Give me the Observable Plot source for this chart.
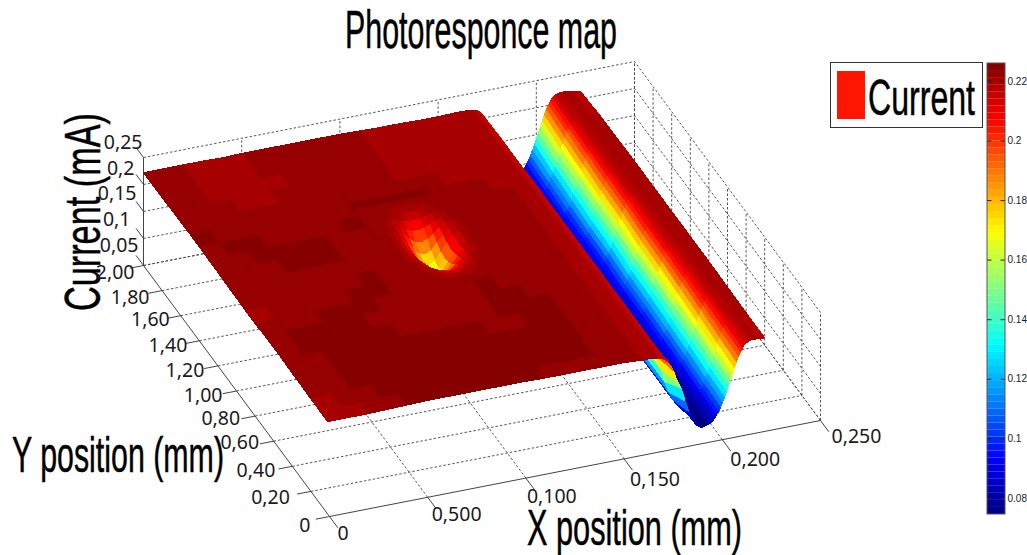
<!DOCTYPE html>
<html><head><meta charset="utf-8">
<script src="https://cdn.jsdelivr.net/npm/d3@7"></script>
<script src="https://cdn.jsdelivr.net/npm/@observablehq/plot@0.6"></script>
<style>
html,body{margin:0;padding:0;background:#fff}
#page{position:relative;width:1027px;height:555px;overflow:hidden}
#page svg{position:absolute}
.t{position:absolute;font-family:"Liberation Sans",Arial,sans-serif;line-height:1;white-space:nowrap;color:#000;transform-origin:0 0;-webkit-text-stroke:0.5px #000}
#legend{position:absolute;left:830px;top:62px;width:151px;height:64px;border:1px solid #333;background:#fff;box-sizing:content-box}
#swatch{position:absolute;left:6px;top:8px;width:28px;height:48px;background:#ff1500}
</style></head>
<body><div id="page">
<div class="t" id="title" style="left:345px;top:3px;font-size:53px">Photoresponce map</div>
<div id="legend"><div id="swatch"></div></div>
<div class="t" id="leg" style="left:868px;top:73px;font-size:50px">Current</div>
<div class="t" id="zlab" style="left:58px;top:311px;font-size:50px">Current (mA)</div>
<div class="t" id="ylab" style="left:12px;top:430px;font-size:50px">Y position (mm)</div>
<div class="t" id="xlab" style="left:527px;top:503px;font-size:50px">X position (mm)</div>
</div>
<script>
// ---------- axis ticks ----------
const xTicks=[0,0.05,0.1,0.15,0.2,0.25];
const xTickLabels=["0","0,500","0,100","0,150","0,200","0,250"];
const yTicks=[0,0.2,0.4,0.6,0.8,1,1.2,1.4,1.6,1.8,2];
const yTickLabels=["0","0,20","0,40","0,60","0,80","1,00","1,20","1,40","1,60","1,80","2,00"];
const zTicks=[0.05,0.1,0.15,0.2,0.25];
const zTickLabels=["0,05","0,1","0,15","0,2","0,25"];
const barTicks=[0.08,0.1,0.12,0.14,0.16,0.18,0.2,0.22];
const barTickLabels=["0.08","0.1","0.12","0.14","0.16","0.18","0.2","0.22"];
const currentExtent=[0.0746,0.226];

// ---------- flat part of the sample: current in uA ----------
const plateauX=[0,0.01,0.02,0.03,0.04,0.05,0.06,0.07,0.08,0.09,0.10,0.11,0.12,0.13,0.14,0.15,0.16];
const plateauY=[2.0,1.9,1.8,1.7,1.6,1.5,1.4,1.3,1.2,1.1,1.0,0.9,0.8,0.7,0.6,0.5,0.4,0.3,0.2,0.1,0.02];
const plateauCurrent=[
[222,222,222,222,221,222,222,222,222,222,222,221,220,220,219,219,220],
[222,222,221,220,220,222,222,222,222,223,223,220,219,219,219,219,220],
[222,222,221,220,220,220,222,222,222,224,224,220,219,219,219,220,221],
[223,222,222,220,220,221,222,222,222,223,223,221,220,219,219,220,221],
[223,223,222,222,222,222,222,223,223,223,222,222,221,220,220,220,221],
[224,223,223,223,223,223,223,223,223,224,224,224,223,222,222,221,221],
[224,224,224,223,223,223,223,224,224,224,225,225,225,224,223,222,221],
[223,223,224,224,224,224,223,223,224,225,225,225,224,224,223,222,221],
[223,223,223,224,224,224,224,223,223,223,223,223,224,224,223,222,221],
[222,223,223,223,224,224,223,223,223,223,223,223,223,223,223,222,221],
[222,222,223,223,223,223,223,224,223,223,223,223,223,223,223,222,221],
[221,221,222,223,223,223,224,224,223,223,223,223,223,223,223,222,221],
[221,221,222,223,224,224,224,224,223,223,223,223,224,223,223,222,221],
[223,224,224,224,224,224,223,223,223,223,223,224,224,223,223,222,221],
[223,224,225,225,224,224,223,223,223,223,223,224,224,224,224,222,221],
[223,223,224,224,224,224,224,223,224,224,223,223,224,224,224,223,221],
[222,223,223,224,224,224,224,224,224,224,224,224,223,224,224,223,221],
[222,223,224,224,225,225,225,225,224,224,224,225,225,225,224,223,221],
[221,222,223,224,224,225,225,225,225,225,224,224,225,225,224,223,221],
[221,221,222,223,224,224,225,225,224,224,224,224,224,224,224,223,221],
[221,221,221,222,223,224,224,224,224,224,224,223,223,223,223,223,221]];

// ---------- the dip in the middle ----------
const pitX=[0.082,0.085,0.088,0.091,0.094,0.097,0.100,0.103,0.106,0.109,0.112,0.115,0.118,0.121,0.124,0.127,0.130];
const pitY=[1.45,1.41,1.37,1.33,1.29,1.25,1.21,1.17,1.13,1.09,1.05,1.01,0.97,0.93,0.89,0.85,0.81];
const pitCurrent=[
[223,223,223,223,223,223,223,222,222,222,223,223,223,223,223,223,223],
[223,223,223,223,223,222,222,221,221,221,222,222,223,223,223,223,223],
[223,223,223,223,222,221,220,219,218,219,220,221,222,223,223,223,223],
[223,223,223,222,221,219,216,214,213,214,217,220,221,222,223,223,223],
[223,223,223,222,219,215,210,205,204,206,211,216,220,222,223,223,223],
[223,223,222,221,217,211,202,194,191,195,203,212,218,221,222,223,223],
[223,223,222,220,215,206,193,182,178,183,195,207,216,220,222,223,223],
[223,223,222,219,213,202,187,173,167,173,188,203,214,220,222,223,223],
[223,223,222,219,213,201,185,169,163,169,185,201,213,219,222,223,223],
[223,223,222,220,214,203,188,173,167,173,187,202,213,219,222,223,223],
[223,223,222,220,216,207,195,183,178,182,193,206,215,220,222,223,223],
[223,223,222,221,218,212,203,195,191,194,202,211,217,221,222,223,223],
[223,223,223,222,220,216,211,206,204,205,210,215,219,222,223,223,223],
[223,223,223,222,221,220,217,214,213,214,216,219,221,222,223,223,223],
[223,223,223,223,222,221,220,219,218,219,220,221,222,223,223,223,223],
[223,223,223,223,223,222,222,221,221,221,222,222,223,223,223,223,223],
[223,223,223,223,223,223,223,222,222,222,223,223,223,223,223,223,223]];

// ---------- the trench and its far ridge ----------
const trenchX=[0.160,0.163,0.166,0.168,0.170,0.172,0.174,0.176,0.178,0.180,0.182,0.184,0.186,0.188,
0.190,0.191,0.192,0.193,0.194,0.195,0.196,0.197,0.198,0.199,0.200,0.201,0.202,0.203,0.204,0.205,0.206,0.207,0.208,0.209,0.210,0.211,0.212,0.213,0.214,0.215,0.216,0.218,0.220,0.2225];
const trenchY=[2.0,1.8,1.6,1.4,1.2,1.0,0.8,0.6,0.4,0.2,0.02];
const trenchCurrent=[
[220,220,219,218,216,210,197,172,148,124,105,90,80,77, 78,80,83,87,92,98,105,113,122,132,141,151,162,172,182,192,200,206,212,215,217,218,219,219,220,220,219,218,216,214],
[221,221,220,219,217,212,199,174,149,125,105,90,80,76, 77,79,81,85,89,94,101,108,117,126,136,145,155,166,176,186,196,202,208,213,216,217,218,219,219,219,220,220,219,218],
[221,221,220,219,217,212,200,175,150,125,104,90,80,76, 77,78,80,83,87,92,98,105,113,122,132,141,151,162,172,182,192,200,206,212,215,217,218,219,219,220,220,220,220,219],
[221,221,220,219,217,213,200,175,150,125,105,90,80,76, 77,78,79,82,85,90,96,102,110,118,128,137,147,158,168,178,188,197,204,210,214,216,218,219,219,219,220,221,221,220],
[221,221,220,219,217,213,200,175,150,126,105,89,80,76, 76,77,79,81,85,89,94,101,108,117,126,136,145,155,166,176,186,195,202,208,213,216,217,218,219,219,220,221,221,220],
[221,221,220,219,217,213,200,175,150,125,105,90,80,76, 76,77,78,80,82,86,91,97,104,111,120,130,139,149,160,170,180,190,198,205,211,214,217,218,219,219,219,220,221,220],
[221,221,220,219,217,213,200,175,150,125,105,90,80,76, 76,77,78,79,82,85,90,96,102,110,118,128,137,147,158,168,178,188,197,204,210,214,216,218,219,219,219,220,220,220],
[221,221,220,219,217,213,200,175,150,125,105,90,80,76, 75,76,77,78,81,84,88,93,99,107,115,124,134,143,153,164,174,184,194,201,207,213,215,217,218,219,219,220,220,220],
[221,221,220,219,217,213,200,175,150,125,105,90,80,76, 75,76,77,78,80,82,86,91,97,104,111,120,130,139,149,160,170,180,190,198,205,211,214,217,218,219,219,220,220,219],
[221,221,220,219,217,213,200,176,151,126,105,90,80,76, 75,75,76,77,79,81,84,89,94,100,107,116,125,135,144,154,165,175,185,194,202,208,213,216,217,218,219,219,219,218],
[221,221,220,219,217,213,205,190,170,155,130,108,92,80, 75,75,76,77,78,80,83,87,92,98,105,113,122,132,141,151,162,172,182,192,200,206,212,215,217,218,219,219,218,218]];

// ---------- view of the 3-D box ----------
const sx=(x,y)=>329+x/0.25*491-y/2*186;
const sy=(x,y,z)=>516-x/0.25*96-y/2*251-(z-0.05)/0.2*108;

function facets(X,Y,M,prefix){
  const cells=[];
  for(let r=0;r<Y.length-1;r++)for(let c=0;c<X.length-1;c++){
    const corners=[[c,r],[c+1,r],[c+1,r+1],[c,r+1]];
    const v=d3.mean(corners,([i,j])=>M[j][i])/1000;
    const mx=(X[c]+X[c+1])/2,my=(Y[r]+Y[r+1])/2;
    cells.push({id:prefix+r+"_"+c,v,depth:mx*384+my*125.5,pts:corners.map(([i,j])=>[X[i],Y[j],M[j][i]/1000])});
  }
  return cells;
}
function vertices(cells){
  const out=[];
  for(const k of cells){for(const [x,y,z] of [...k.pts,k.pts[0]])out.push({id:k.id,v:k.v,px:sx(x,y),py:sy(x,y,z)});}
  return out;
}
const main=[...facets(plateauX,plateauY,plateauCurrent,"p"),...facets(trenchX,trenchY,trenchCurrent,"t")].sort((a,b)=>b.depth-a.depth);
const pit=facets(pitX,pitY,pitCurrent,"d").sort((a,b)=>b.depth-a.depth);

// jet colour map, 64 levels
const jet=t=>{const f=a=>Math.round(255*Math.max(0,Math.min(1,1.5-Math.abs(4*t-a))));return `rgb(${f(3)},${f(2)},${f(1)})`;};
const jet64=d3.range(64).map(i=>jet((i+0.5)/64));
const edges=d3.range(65).map(i=>currentExtent[0]+i*(currentExtent[1]-currentExtent[0])/64);
const colorScale={type:"threshold",domain:edges.slice(1,64),range:jet64};

// ---------- grid lines ----------
const Zb=0.05,Zt=0.25,Xr=0.25,Yb=2;
const seg=(a,b)=>({x1:sx(a[0],a[1]),y1:sy(a[0],a[1],a[2]),x2:sx(b[0],b[1]),y2:sy(b[0],b[1],b[2])});
const grid=[
 ...xTicks.slice(1).map(x=>seg([x,0,Zb],[x,Yb,Zb])),
 ...yTicks.slice(1).map(y=>seg([0,y,Zb],[Xr,y,Zb])),
 ...xTicks.slice(1).map(x=>seg([x,Yb,Zb],[x,Yb,Zt])),
 ...yTicks.map(y=>seg([Xr,y,Zb],[Xr,y,Zt])),
 ...zTicks.map(z=>seg([0,Yb,z],[Xr,Yb,z])),
 ...zTicks.map(z=>seg([Xr,0,z],[Xr,Yb,z]))
];
const axes=[seg([0,Yb,Zb],[0,Yb,Zt]),seg([0,0,Zb],[0,Yb,Zb]),seg([0,0,Zb],[Xr,0,Zb]),
 ...xTicks.map(x=>seg([x,0,Zb],[x,-0.09,Zb])),
 ...yTicks.map(y=>seg([0,y,Zb],[-0.007,y,Zb])),
 ...zTicks.map(z=>seg([0,Yb,z],[0,Yb+0.08,z]))];

// hand placement of each tick label next to its tick
const xShift=[8,4,1,6,8,11], xRise=[17,17,19,21,20,16];
const yShift=[-19,-21,-17,-14.6,-15,-14,-13.6,-12,-11,-12.6,-9], yRise=[9,6,4,2,3,5,5,5,4,7,7];
const zShift=[-5,-13,-7,-9,-1], zRise=[-20,-19,-18,-16,-15];
const xLab=xTicks.map((x,i)=>({px:sx(x,0)+xShift[i],py:sy(x,0,Zb)+xRise[i],s:xTickLabels[i]}));
const yLab=yTicks.map((y,i)=>({px:sx(0,y)+yShift[i],py:sy(0,y,Zb)+yRise[i],s:yTickLabels[i]}));
const zLab=zTicks.map((z,i)=>({px:sx(0,Yb)+zShift[i],py:sy(0,Yb,z)+zRise[i],s:zTickLabels[i]}));
const tickFont={fontFamily:"'Noto Sans',sans-serif",fontSize:19.5,fill:"#1a1a1a"};

const surface=(cells)=>Plot.line(vertices(cells),{x:"px",y:"py",z:"id",fill:"v",stroke:"v",strokeWidth:1,curve:"linear",shapeRendering:"crispEdges"});
const linkOpts={x1:"x1",y1:"y1",x2:"x2",y2:"y2"};

const chart=Plot.plot({
  width:1027,height:555,margin:0,style:{background:"transparent"},
  x:{domain:[0,1027],range:[0,1027],axis:null},
  y:{domain:[0,555],range:[0,555],axis:null},
  color:colorScale,
  marks:[
    Plot.link(grid,{...linkOpts,stroke:"#444",strokeWidth:0.9,strokeDasharray:"2.5,2"}),
    Plot.link(axes,{...linkOpts,stroke:"#444",strokeWidth:1}),
    surface(main),
    surface(pit),
    Plot.text(xLab,{x:"px",y:"py",text:"s",textAnchor:"start",...tickFont}),
    Plot.text(yLab,{x:"px",y:"py",text:"s",textAnchor:"end",...tickFont}),
    Plot.text(zLab,{x:"px",y:"py",text:"s",textAnchor:"end",...tickFont})
  ]
});
document.getElementById("page").appendChild(chart);
chart.style.left="0";chart.style.top="0";

// ---------- colour bar ----------
const barCells=jet64.map((c,i)=>({y1:edges[i],y2:edges[i+1],v:(edges[i]+edges[i+1])/2}));
const barT=barTicks.map((v,i)=>({v,s:barTickLabels[i]}));
const bar=Plot.plot({
  width:40,height:470,margin:0,style:{background:"transparent",overflow:"visible"},
  x:{domain:[0,1],range:[0,18],axis:null},
  y:{domain:currentExtent,range:[464,13],axis:null},
  color:colorScale,
  marks:[
    Plot.rectY(barCells,{x1:0,x2:1,y1:"y1",y2:"y2",fill:"v"}),
    Plot.ruleY(barT,{y:"v",x1:0,x2:0.25,stroke:"#222"}),
    Plot.ruleY(barT,{y:"v",x1:0.75,x2:1,stroke:"#222"}),
    Plot.rect([{}],{x1:0,x2:1,y1:currentExtent[0],y2:currentExtent[1],fill:"none",stroke:"#555"}),
    Plot.text(barT,{x:1,y:"v",text:"s",dx:2,textAnchor:"start",fontSize:10,fontFamily:"'Liberation Sans',Arial,sans-serif",fill:"#222"})
  ]
});
document.getElementById("page").appendChild(bar);
bar.style.left="987px";bar.style.top="50px";

// ---------- condensed display type ----------
function fit(id,w,rot){
  const el=document.getElementById(id);
  const f=w/el.getBoundingClientRect().width;
  el.style.transform=(rot?"rotate(-90deg) ":"")+`scaleX(${f})`;
}
fit("title",272);fit("leg",107);fit("ylab",212);fit("xlab",215);fit("zlab",198,true);
</script>
</body></html>
